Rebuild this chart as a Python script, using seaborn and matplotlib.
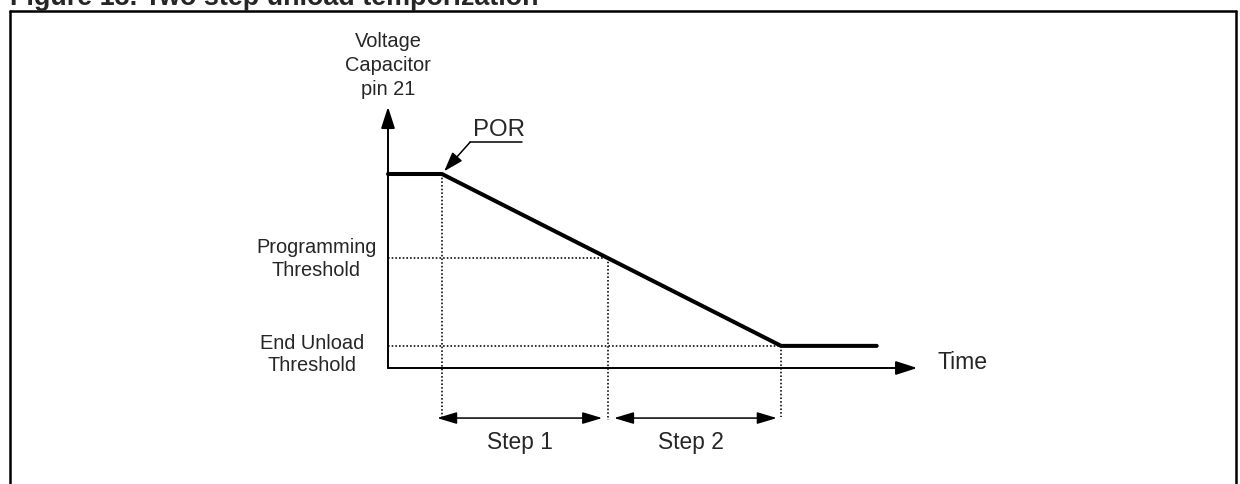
import matplotlib
matplotlib.use("Agg")
import matplotlib.pyplot as plt
import seaborn as sns
from matplotlib.lines import Line2D

# voltage on the capacitor (arbitrary units) against time
time_pts = [0.0, 1.0, 7.28, 9.05]
volt_pts = [5.0, 5.0, 0.57, 0.57]
v_high = volt_pts[0]
v_end = volt_pts[2]
v_prog = 2.83
t_por = time_pts[1]
t_end = time_pts[2]
x_axis_end = 9.8
y_axis_end = 6.73

title = "Figure 13. Two step unload temporization"
y_label = "Voltage\nCapacitor\npin 21"
level_labels = ["Programming\nThreshold", "End Unload\nThreshold"]
step_labels = ["Step 1", "Step 2"]

sns.set_theme(style="white")
plt.rcParams['font.family'] = ['Liberation Sans', 'DejaVu Sans']

# where the line crosses the programming threshold
t_prog = t_por + (v_high - v_prog) / (v_high - v_end) * (t_end - t_por)

W, H = 1240, 484
fig = plt.figure(figsize=(W / 100, H / 100), dpi=100)
ax = fig.add_axes([0, 0, 1, 1])
sx, sy = 54.0, 38.8
ox, oy = 388, 368
ax.set_xlim(-ox / sx, (W - ox) / sx)
ax.set_ylim(-(H - oy) / sy, oy / sy)
ax.axis('off')

# frame and cropped title
frame = dict(color='black', lw=1.8, transform=fig.transFigure)
fl, ft, fr = 9.5 / W, 1 - 11 / H, 1235.5 / W
fig.add_artist(Line2D([fl, fl], [-0.05, ft], **frame))
fig.add_artist(Line2D([fl, fr], [ft, ft], **frame))
fig.add_artist(Line2D([fr, fr], [-0.05, ft], **frame))
fig.text(10 / W, 1 - 5 / H, title, fontsize=19.4, fontweight='bold',
         va='baseline', ha='left')

# axes with arrow heads
head = dict(arrowstyle='-|>,head_length=1.3,head_width=0.42', mutation_scale=10,
            color='black', lw=1.4, shrinkA=0, shrinkB=0)
ax.annotate('', xy=(0, y_axis_end), xytext=(0, 0), arrowprops=head)
ax.annotate('', xy=(x_axis_end, 0), xytext=(0, 0), arrowprops=head)

# dotted guides
dot = dict(color='black', lw=1.15, ls=(0, (1, 1.3)))
ax.plot([0, t_prog], [v_prog, v_prog], **dot)
ax.plot([0, t_end], [v_end, v_end], **dot)
ax.plot([t_por, t_por], [v_high, -1.25], **dot)
ax.plot([t_prog, t_prog], [v_prog, -1.35], **dot)
ax.plot([t_end, t_end], [v_end, -1.25], **dot)

# capacitor voltage
sns.lineplot(x=time_pts, y=volt_pts, sort=False, color='black', lw=2.9,
             solid_capstyle='round', ax=ax)

# step arrows
both = dict(arrowstyle='<|-|>,head_length=1.2,head_width=0.36', mutation_scale=10,
            color='black', lw=1.1, shrinkA=0, shrinkB=0)
ya = -1.29
ax.annotate('', xy=(t_prog - 0.11, ya), xytext=(t_por - 0.09, ya), arrowprops=both)
ax.annotate('', xy=(t_end - 0.08, ya), xytext=(t_prog + 0.11, ya), arrowprops=both)
ax.text((t_por + t_prog) / 2 - 0.09, -1.91, step_labels[0], fontsize=16.4,
        ha='center', va='center')
ax.text((t_prog + t_end) / 2 - 0.06, -1.91, step_labels[1], fontsize=16.4,
        ha='center', va='center')

# labels
ax.text(0, 7.8, y_label, fontsize=14.4, ha='center', va='center', linespacing=1.32)
ax.text(-1.33, v_prog - 0.03, level_labels[0], fontsize=14.4, ha='center',
        va='center', linespacing=1.25)
ax.text(-1.41, v_end - 0.22, level_labels[1], fontsize=14.4, ha='center',
        va='center', linespacing=1.25)
ax.text(10.17, 0.13, "Time", fontsize=16.6, ha='left', va='center')

# POR callout
ax.text(1.57, 6.13, "POR", fontsize=17.3, ha='left', va='center')
ax.plot([1.52, 2.48], [5.82, 5.82], color='black', lw=1.1)
ax.annotate('', xy=(t_por + 0.04, v_high + 0.07), xytext=(1.52, 5.82),
            arrowprops=dict(arrowstyle='-|>,head_length=1.2,head_width=0.4',
                            mutation_scale=10, color='black', lw=1.1,
                            shrinkA=0, shrinkB=0))

fig.savefig("out.png", dpi=100)
